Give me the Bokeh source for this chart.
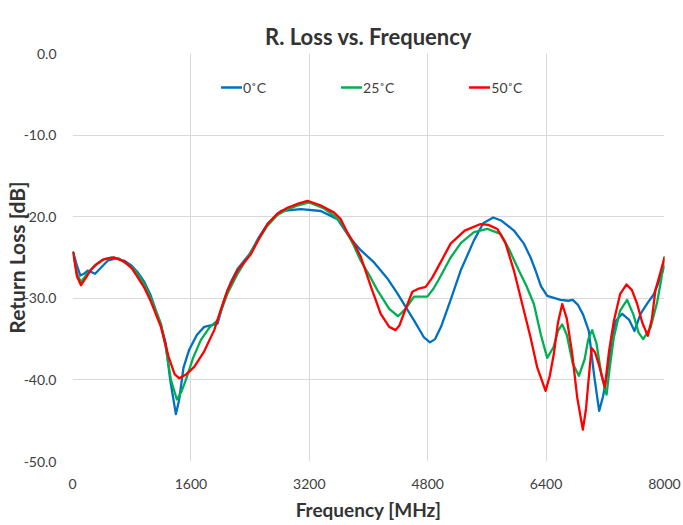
from bokeh.plotting import figure
from bokeh.models import (Legend, LegendItem, FixedTicker, PrintfTickFormatter, Range1d, Title,
                          LinearAxis)
from bokeh.embed import file_html
from bokeh.resources import INLINE

# ---- data ----
f_0c = [10, 60, 105, 155, 205, 260, 305, 390, 475, 587, 700, 800, 880, 970, 1050, 1195, 1260, 1320,
        1397, 1440, 1500, 1577, 1680, 1780, 1880, 1960, 2050, 2140, 2230, 2400, 2520, 2635, 2815,
        3085, 3355, 3580, 3750, 3895, 4075, 4250, 4390, 4615, 4750, 4830, 4900, 4980, 5110, 5250,
        5425, 5550, 5685, 5800, 5965, 6100, 6190, 6258, 6330, 6415, 6595, 6700, 6760, 6830, 6900,
        6977, 7050, 7117, 7170, 7220, 7270, 7338, 7428, 7520, 7595, 7676, 7770, 7856, 7930, 8000]
rl_0c = [-24.4, -26.0, -27.2, -27.0, -26.6, -26.8, -27.0, -26.2, -25.4, -25.1, -25.4, -26.0, -26.8,
         -28.0, -29.5, -33.3, -35.5, -40.0, -44.2, -42.5, -38.5, -36.3, -34.5, -33.5, -33.3, -33.1,
         -30.2, -28.0, -26.4, -24.5, -22.5, -20.9, -19.3, -19.06, -19.3, -20.3, -22.6, -24.1, -25.6,
         -27.5, -29.4, -32.7, -34.8, -35.4, -35.0, -33.5, -30.2, -26.5, -22.9, -20.8, -20.1, -20.5,
         -21.7, -23.3, -25.0, -26.6, -28.5, -29.7, -30.2, -30.3, -30.2, -30.8, -32.0, -34.0, -39.5,
         -43.8, -42.0, -39.5, -36.8, -32.8, -31.9, -32.6, -34.0, -31.9, -30.6, -29.5, -27.8, -26.1]

f_25c = [10, 60, 115, 200, 295, 400, 520, 620, 700, 800, 880, 970, 1050, 1195, 1260, 1330, 1410,
         1470, 1532, 1630, 1735, 1850, 1960, 2095, 2230, 2365, 2500, 2635, 2770, 2905, 3050, 3197,
         3400, 3535, 3625, 3700, 3800, 3895, 4000, 4120, 4280, 4400, 4500, 4615, 4700, 4795, 4880,
         4950, 5110, 5250, 5425, 5605, 5785, 5900, 6032, 6135, 6235, 6330, 6415, 6500, 6560, 6618,
         6680, 6760, 6843, 6920, 6970, 7022, 7080, 7150, 7217, 7260, 7315, 7400, 7495, 7580, 7650,
         7712, 7811, 7900, 7950, 8000]
rl_25c = [-24.4, -27.0, -28.0, -27.0, -26.0, -25.3, -25.0, -25.1, -25.6, -26.2, -27.0, -28.3, -29.8,
          -33.1, -36.0, -40.0, -42.4, -41.5, -40.0, -37.3, -35.1, -33.6, -32.7, -29.4, -27.0, -25.0,
          -23.0, -21.1, -19.8, -19.1, -18.6, -18.25, -19.0, -19.9, -20.7, -21.8, -23.5, -25.4, -27.0,
          -29.0, -31.3, -32.2, -31.3, -29.8, -29.8, -29.8, -28.8, -27.7, -25.0, -23.2, -21.9, -21.5,
          -22.1, -24.0, -26.6, -28.5, -30.7, -34.5, -37.3, -36.0, -34.0, -33.2, -34.5, -38.0, -39.5,
          -37.5, -35.0, -33.9, -35.5, -39.5, -41.8, -38.5, -34.8, -31.5, -30.2, -32.0, -34.2, -35.0,
          -33.6, -30.5, -28.0, -25.0]

f_50c = [10, 60, 115, 180, 250, 330, 430, 565, 700, 800, 880, 970, 1050, 1195, 1300, 1380, 1442,
         1540, 1645, 1780, 1915, 2000, 2095, 2230, 2410, 2520, 2635, 2770, 2905, 3050, 3175, 3350,
         3535, 3625, 3700, 3800, 3895, 4030, 4165, 4280, 4367, 4420, 4480, 4593, 4680, 4773, 4860,
         4950, 5110, 5300, 5515, 5620, 5740, 5850, 5965, 6080, 6190, 6281, 6393, 6450, 6505, 6560,
         6618, 6680, 6753, 6821, 6897, 6940, 6965, 7014, 7060, 7113, 7194, 7250, 7315, 7400, 7487,
         7560, 7631, 7700, 7775, 7830, 7877, 7940, 8000]
rl_50c = [-24.4, -27.3, -28.4, -27.5, -26.5, -25.8, -25.2, -25.0, -25.5, -26.3, -27.4, -28.7, -30.2,
          -33.5, -37.2, -39.3, -39.8, -39.3, -38.4, -36.5, -33.9, -31.5, -29.0, -26.6, -24.6, -22.7,
          -20.9, -19.6, -18.9, -18.4, -18.05, -18.6, -19.5, -20.3, -21.7, -23.2, -24.9, -28.5, -31.9,
          -33.5, -33.9, -33.3, -31.8, -29.2, -28.8, -28.6, -27.5, -26.0, -23.3, -21.7, -20.9, -21.0,
          -21.5, -23.2, -26.6, -30.8, -34.8, -38.5, -41.35, -39.5, -36.8, -33.0, -30.7, -32.5, -36.8,
          -42.2, -46.1, -43.5, -40.9, -36.1, -36.6, -38.1, -40.9, -36.5, -32.8, -29.5, -28.3, -29.0,
          -30.7, -33.0, -34.6, -32.5, -29.0, -27.0, -25.0]

x_ticks = [0, 1600, 3200, 4800, 6400, 8000]
y_ticks = [-50, -40, -30, -20, -10, 0]
series_names = ["0˚C", "25˚C", "50˚C"]
colors = ["#0070C0", "#00B050", "#FF0000"]
title_text = "R. Loss vs. Frequency"

FONT = "Lato"

p = figure(frame_width=592, frame_height=408, output_backend="svg", toolbar_location=None,
           x_range=Range1d(0, 8000), y_range=Range1d(-50, 0),
           min_border_left=72, min_border_right=19, min_border_top=53, min_border_bottom=63)

xax = p.below[0]
yax = p.left[0]

# invisible spacer between the title and the plot frame (no ticks, no labels)
spacer = LinearAxis(ticker=FixedTicker(ticks=[]), axis_line_color=None,
                    major_tick_line_color=None, minor_tick_line_color=None,
                    major_tick_out=14, major_tick_in=0, minor_tick_out=0, minor_tick_in=0,
                    major_label_standoff=0, major_label_text_font_size="0px")
p.add_layout(spacer, "above")

p.add_layout(Title(text=title_text, align="center", offset=-3,
                   text_font=FONT, text_font_size="22px", text_font_style="bold",
                   text_color="#333333", standoff=8), "above")

renderers = []
for fx, ly, c in [(f_0c, rl_0c, colors[0]), (f_25c, rl_25c, colors[1]), (f_50c, rl_50c, colors[2])]:
    r = p.line(fx, ly, line_color=c, line_width=2.3, line_join="round", line_cap="round")
    renderers.append(r)

legend = Legend(items=[LegendItem(label=n, renderers=[r]) for n, r in zip(series_names, renderers)],
                orientation="horizontal", location=(149, 364),
                glyph_width=21, glyph_height=20, label_standoff=1, spacing=75,
                label_text_font=FONT, label_text_font_size="14px", label_text_color="#404040",
                background_fill_alpha=0, border_line_color=None, padding=0, margin=0)
p.add_layout(legend, "center")

xax.ticker = FixedTicker(ticks=x_ticks)
yax.ticker = FixedTicker(ticks=y_ticks)
yax.formatter = PrintfTickFormatter(format="%.1f")

for ax in (xax, yax):
    ax.axis_line_color = None
    ax.major_tick_line_color = None
    ax.minor_tick_line_color = None
    ax.major_label_text_font = FONT
    ax.major_label_text_font_size = "14px"
    ax.major_label_text_color = "#404040"
    ax.axis_label_text_font = FONT
    ax.axis_label_text_font_style = "bold"
    ax.axis_label_text_color = "#333333"

xax.axis_label = "Frequency [MHz]"
yax.axis_label = "Return Loss [dB]"
xax.axis_label_text_font_size = "19px"
yax.axis_label_text_font_size = "21px"
xax.major_label_standoff = 11
yax.major_label_standoff = 10
xax.axis_label_standoff = 6
yax.axis_label_standoff = -8

p.xgrid.grid_line_color = "#d9d9d9"
p.ygrid.grid_line_color = "#d9d9d9"
p.outline_line_color = None

open("out.html", "w").write(file_html(p, INLINE))
